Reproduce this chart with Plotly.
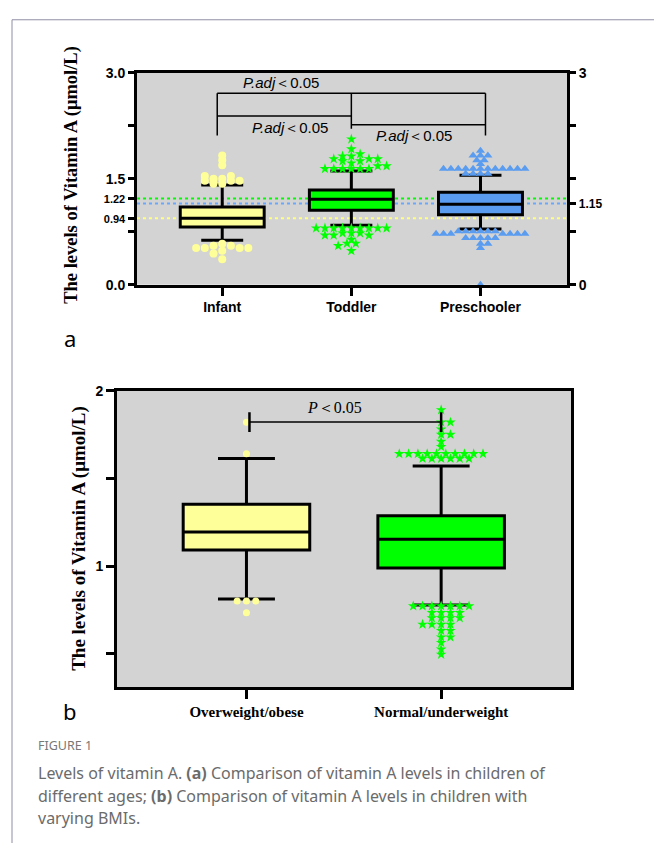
import plotly.graph_objects as go

# ---------------- DATA ----------------
groups_a = ["Infant", "Toddler", "Preschooler"]
q1_a = [0.816, 1.055, 0.99]
median_a = [0.94, 1.21, 1.14]
q3_a = [1.10, 1.34, 1.31]
lowerfence_a = [0.63, 0.84, 0.79]
upperfence_a = [1.41, 1.61, 1.55]
outliers_infant = [1.83, 1.76, 1.69, 1.54, 1.54, 1.50, 1.50, 1.47, 1.47, 1.47, 1.43, 1.43,
                   0.58, 0.55, 0.55, 0.52, 0.52, 0.52, 0.52, 0.48, 0.44, 0.36]
outliers_toddler = [2.06, 1.92, 1.85, 1.82, 1.82, 1.78, 1.78, 1.78, 1.75, 1.75, 1.72, 1.68, 1.68,
                    1.64, 1.64, 1.64, 1.64, 1.64, 1.64,
                    0.80, 0.80, 0.80, 0.80, 0.80, 0.80, 0.80, 0.80, 0.80,
                    0.73, 0.73, 0.73, 0.70, 0.70, 0.70, 0.64, 0.585, 0.585, 0.55, 0.48]
outliers_preschool = [1.895, 1.83, 1.83, 1.83, 1.76, 1.76, 1.71,
                      1.64, 1.64, 1.64, 1.64, 1.64, 1.64, 1.64, 1.64, 1.64, 1.64, 1.64, 1.64,
                      1.57, 1.57, 1.57, 1.57,
                      0.755, 0.755, 0.755, 0.755, 0.755, 0.755,
                      0.72, 0.72, 0.72, 0.72, 0.72, 0.72, 0.72,
                      0.66, 0.66, 0.66, 0.66, 0.66, 0.58, 0.58, 0.52, 0.0]
ref_values_a = [1.22, 1.15, 0.94]   # Toddler, Preschooler, Infant medians
left_ticks_a = [0, 0.75, 0.94, 1.22, 1.5, 2.25, 3.0]
left_ticklabels_a = ["0.0", "", "0.94", "1.22", "1.5", "", "3.0"]
right_ticks_a = [0, 0.75, 1.15, 1.5, 2.25, 3.0]
right_ticklabels_a = ["0", "", "1.15", "", "", "3"]

groups_b = ["Overweight/obese", "Normal/underweight"]
q1_b = [1.091, 0.989]
median_b = [1.194, 1.152]
q3_b = [1.352, 1.287]
lowerfence_b = [0.812, 0.777]
upperfence_b = [1.613, 1.57]
outliers_over = [1.82, 1.64, 0.80, 0.80, 0.80, 0.733]
outliers_normal = [1.89, 1.82, 1.82, 1.78, 1.75, 1.75, 1.71, 1.68,
                   1.64, 1.64, 1.64, 1.64, 1.64, 1.64, 1.64, 1.64, 1.64, 1.64,
                   1.613, 1.613, 1.613, 1.613, 1.613, 1.613,
                   0.772, 0.772, 0.772, 0.772, 0.772, 0.772, 0.772,
                   0.734, 0.734, 0.734, 0.734, 0.704, 0.704, 0.704, 0.704,
                   0.667, 0.667, 0.667, 0.667, 0.631, 0.631, 0.594, 0.594,
                   0.563, 0.525, 0.496, 0.306]
ticks_b = [0.5, 1.0, 1.5, 2.0]
ticklabels_b = ["", "1", "", "2"]

# ---------------- LAYOUT GEOMETRY ----------------
W, H = 654, 851
A_L, A_R, A_T, A_B = 137, 567, 66, 282
A_XR, A_YR = [-0.66, 2.67], [0, 3]
B_L, B_R, B_T, B_B = 117, 571, 390, 692
B_XR, B_YR = [-0.665, 1.667], [0.31, 2.0]

ppx_a = (A_R - A_L) / (A_XR[1] - A_XR[0])
ppy_a = (A_B - A_T) / (A_YR[1] - A_YR[0])
ppx_b = (B_R - B_L) / (B_XR[1] - B_XR[0])
ppy_b = (B_B - B_T) / (B_YR[1] - B_YR[0])


def swarm(vals, lo, hi, step, ppx, ppy, yfac=1.8):
    """Scatter-dot layout: points nearest the whiskers are placed first, at the
    smallest half-step offset that keeps them clear of already placed points."""
    placed = []
    res = [0.0] * len(vals)
    order = sorted(range(len(vals)), key=lambda i: min(abs(vals[i] - lo), abs(vals[i] - hi)))
    thr = (0.95 * step) ** 2
    for n, i in enumerate(order):
        sgn = 1 if n % 2 == 0 else -1
        cands = [0.0]
        for k in range(1, 60):
            cands += [sgn * k * 0.5, -sgn * k * 0.5]
        yp = vals[i] * ppy * yfac
        xp = 0.0
        for c in cands:
            xp = c * step
            if all((xp - px) ** 2 + (yp - py) ** 2 >= thr for px, py in placed):
                break
        placed.append((xp, yp))
        res[i] = xp / ppx
    return res


SERIF = "Liberation Serif, Times New Roman, serif"
SANS = "Liberation Sans, Arial, sans-serif"
YELLOW = "#FFFF99"
GREEN = "#00FF00"
BLUE = "#5A9CF0"

fig = go.Figure()

# ---- panel a ----
fills_a = [YELLOW, GREEN, BLUE]
for i in range(3):
    fig.add_trace(go.Box(x=[i], q1=[q1_a[i]], median=[median_a[i]], q3=[q3_a[i]],
                         lowerfence=[lowerfence_a[i]], upperfence=[upperfence_a[i]],
                         width=0.65, whiskerwidth=0.5, fillcolor=fills_a[i],
                         line=dict(color="black", width=3), boxpoints=False,
                         hoverinfo="skip", showlegend=False, xaxis="x", yaxis="y"))
outs_a = [outliers_infant, outliers_toddler, outliers_preschool]
syms_a = ["circle", "star", "triangle-up"]
sizes_a = [8, 8, 8]
steps_a = [8.7, 8.8, 7.4]
for i in range(3):
    offs = swarm(outs_a[i], lowerfence_a[i], upperfence_a[i], steps_a[i], ppx_a, ppy_a)
    fig.add_trace(go.Scatter(x=[i + o for o in offs], y=outs_a[i], mode="markers",
                             marker=dict(symbol=syms_a[i], size=sizes_a[i], color=fills_a[i],
                                         line=dict(width=0)),
                             cliponaxis=False, showlegend=False, hoverinfo="skip",
                             xaxis="x", yaxis="y"))
fig.add_trace(go.Scatter(x=[], y=[], xaxis="x", yaxis="y3", showlegend=False))

# ---- panel b ----
fills_b = [YELLOW, GREEN]
for i in range(2):
    fig.add_trace(go.Box(x=[i], q1=[q1_b[i]], median=[median_b[i]], q3=[q3_b[i]],
                         lowerfence=[lowerfence_b[i]], upperfence=[upperfence_b[i]],
                         width=0.65, whiskerwidth=0.45, fillcolor=fills_b[i],
                         line=dict(color="black", width=3), boxpoints=False,
                         hoverinfo="skip", showlegend=False, xaxis="x2", yaxis="y2"))
outs_b = [outliers_over, outliers_normal]
syms_b = ["circle", "star"]
sizes_b = [7, 8]
for i in range(2):
    offs = swarm(outs_b[i], lowerfence_b[i], upperfence_b[i], 9.3, ppx_b, ppy_b)
    fig.add_trace(go.Scatter(x=[i + o for o in offs], y=outs_b[i], mode="markers",
                             marker=dict(symbol=syms_b[i], size=sizes_b[i], color=fills_b[i],
                                         line=dict(width=0)),
                             cliponaxis=False, showlegend=False, hoverinfo="skip",
                             xaxis="x2", yaxis="y2"))

# ---- shapes ----
shapes = []
ref_colors = [GREEN, "#6AA8FF", "#FFFF80"]
for v, c in zip(ref_values_a, ref_colors):
    shapes.append(dict(type="line", xref="x domain", yref="y", x0=0, x1=1, y0=v, y1=v,
                       line=dict(color=c, width=2, dash="dot"), layer="below"))


def seg(x0, y0, x1, y1, xr="x", yr="y", w=1.5):
    shapes.append(dict(type="line", xref=xr, yref=yr, x0=x0, y0=y0, x1=x1, y1=y1,
                       line=dict(color="black", width=w)))


def px2y(p, T, B, YR):
    return YR[1] - (p - T) / (B - T) * (YR[1] - YR[0])


ya_top = px2y(87, A_T, A_B, A_YR)
ya_leg = px2y(130, A_T, A_B, A_YR)
ya_mid1 = px2y(110, A_T, A_B, A_YR)
ya_mid2 = px2y(119, A_T, A_B, A_YR)
ya_tleg = px2y(123, A_T, A_B, A_YR)
xl = 0 - 5 / ppx_a
xr_ = 2 + 5 / ppx_a
seg(xl, ya_top, xr_, ya_top)
seg(xl, ya_top, xl, ya_leg)
seg(xr_, ya_top, xr_, ya_leg)
seg(1, ya_top, 1, ya_tleg)
seg(xl, ya_mid1, 1, ya_mid1)
seg(1, ya_mid2, xr_, ya_mid2)

yb = px2y(422, B_T, B_B, B_YR)
yb0 = px2y(412, B_T, B_B, B_YR)
yb1 = px2y(432, B_T, B_B, B_YR)
xb0 = 0 + 3 / ppx_b
seg(xb0, yb, 1, yb, "x2", "y2", 1.5)
seg(xb0, yb0, xb0, yb1, "x2", "y2", 2.5)
seg(1, yb0, 1, yb1, "x2", "y2", 2.5)

# figure frame
shapes.append(dict(type="line", xref="paper", yref="paper", x0=12 / W, x1=1, y0=1 - 12 / H, y1=1 - 12 / H,
                   line=dict(color="#8E8EA6", width=1)))
shapes.append(dict(type="line", xref="paper", yref="paper", x0=12 / W, x1=12 / W, y0=1 - 12 / H, y1=0,
                   line=dict(color="#8E8EA6", width=1)))

# ---- annotations ----
ann = []


def pann(x, y, text, size, family, color="black", angle=0, xanchor="center", yanchor="middle"):
    ann.append(dict(xref="paper", yref="paper", x=x / W, y=1 - y / H, text=text, showarrow=False,
                    font=dict(size=size, family=family, color=color), textangle=angle,
                    xanchor=xanchor, yanchor=yanchor))


def dann(x, y, text, size, family, xr, yr):
    ann.append(dict(xref=xr, yref=yr, x=x, y=y, text=text, showarrow=False,
                    font=dict(size=size, family=family, color="black"),
                    xanchor="center", yanchor="middle"))


dann(0.457, px2y(76, A_T, A_B, A_YR), "<i>P.adj</i>＜0.05", 15, SANS, "x", "y")
dann(0.527, px2y(122, A_T, A_B, A_YR), "<i>P.adj</i>＜0.05", 15, SANS, "x", "y")
dann(1.488, px2y(130, A_T, A_B, A_YR), "<i>P.adj</i>＜0.05", 15, SANS, "x", "y")
dann(0.45, px2y(407, B_T, B_B, B_YR), "<i>P</i>＜0.05", 16, SERIF, "x2", "y2")

pann(72, 170, "<b>The levels of Vitamin A (μmol/L)</b>", 18.5, SERIF, angle=-90)
pann(79, 541, "<b>The levels of Vitamin A (μmol/L)</b>", 19, SERIF, angle=-90)
pann(70, 336, "a", 22, "Noto Sans")
pann(70, 716, "b", 22, "Noto Sans")
pann(36, 752, "FIGURE 1", 12.5, "Noto Sans", color="#777777", xanchor="left")
cap_col = "#6B6B6B"
pann(36, 780, "Levels of vitamin A. <b>(a)</b> Comparison of vitamin A levels in children of", 16,
     "Noto Sans", color=cap_col, xanchor="left")
pann(36, 803, "different ages; <b>(b)</b> Comparison of vitamin A levels in children with", 16,
     "Noto Sans", color=cap_col, xanchor="left")
pann(36, 826, "varying BMIs.", 16, "Noto Sans", color=cap_col, xanchor="left")

axis_common = dict(showline=True, linecolor="black", linewidth=3, ticks="outside",
                   tickcolor="black", tickwidth=3, showgrid=False, zeroline=False, fixedrange=True)

fig.update_layout(
    width=W, height=H, margin=dict(l=0, r=0, t=0, b=0),
    paper_bgcolor="white", plot_bgcolor="#D3D3D3", showlegend=False,
    xaxis=dict(domain=[A_L / W, A_R / W], range=A_XR, anchor="y", tickvals=[0, 1, 2],
               ticktext=["<b>%s</b>" % g for g in groups_a], ticklen=8, mirror=True,
               tickfont=dict(family=SANS, size=14, color="black"), **axis_common),
    yaxis=dict(domain=[1 - A_B / H, 1 - A_T / H], range=A_YR, anchor="x", tickvals=left_ticks_a,
               ticktext=["<b>%s</b>" % t if t in ("0.0", "1.5", "3.0") else
                         "<span style='font-size:11px'><b>%s</b></span>" % t for t in left_ticklabels_a],
               ticklen=6, tickfont=dict(family=SANS, size=14, color="black"), **axis_common),
    yaxis3=dict(overlaying="y", side="right", anchor="x", range=A_YR, tickvals=right_ticks_a,
                ticktext=["<b>%s</b>" % t if t in ("0", "3") else
                          "<span style='font-size:12px'><b>%s</b></span>" % t for t in right_ticklabels_a],
                ticklen=6, tickfont=dict(family=SANS, size=14, color="black"), **axis_common),
    xaxis2=dict(domain=[B_L / W, B_R / W], range=B_XR, anchor="y2", tickvals=[0, 1],
                ticktext=["<b>%s</b>" % g for g in groups_b], ticklen=9, mirror=True,
                tickfont=dict(family=SERIF, size=15, color="black"), **axis_common),
    yaxis2=dict(domain=[1 - B_B / H, 1 - B_T / H], range=B_YR, anchor="x2", tickvals=ticks_b,
                ticktext=["<b>%s</b>" % t if t else "" for t in ticklabels_b], ticklen=8, mirror=True,
                tickfont=dict(family=SANS, size=14, color="black"), **axis_common),
    shapes=shapes, annotations=ann,
)

page_css = ("var s=document.createElement('style');"
            "s.innerHTML='html,body{margin:0;padding:0;overflow:hidden}';"
            "document.head.appendChild(s);document.body.style.margin='0';")
fig.write_html("out.html", config={"displayModeBar": False}, post_script=page_css)
